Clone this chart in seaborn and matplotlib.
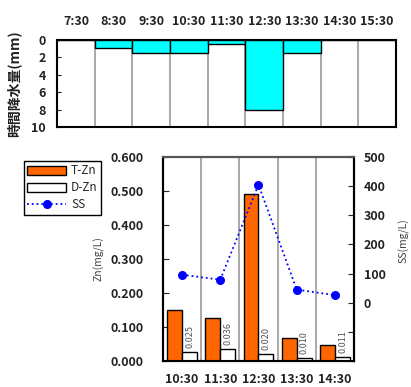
import numpy as np
import pandas as pd
import matplotlib
matplotlib.use('Agg')
import matplotlib.pyplot as plt
from matplotlib.patches import Patch
from matplotlib.lines import Line2D
import seaborn as sns

# dados
horas_chuva = ['7:30', '8:30', '9:30', '10:30', '11:30', '12:30', '13:30', '14:30', '15:30']
chuva = [0, 0.9, 1.5, 1.5, 0.5, 8.0, 1.5, 0, 0]

horas = ['10:30', '11:30', '12:30', '13:30', '14:30']
t_zn = [0.150, 0.127, 0.490, 0.067, 0.047]
d_zn = [0.025, 0.036, 0.020, 0.010, 0.011]
ss = [96, 79, 405, 45, 26]

sns.set_style('white')
plt.rcParams['font.family'] = ['Noto Sans CJK JP', 'DejaVu Sans']

cor_txt = '#222222'
fig = plt.figure(figsize=(4.11, 3.87), dpi=100)

# --- chuva (topo) ---
ax1 = fig.add_axes([0.139, 0.672, 0.8245, 0.2246])
df_chuva = pd.DataFrame({'hora': horas_chuva, 'chuva': chuva})
sns.barplot(data=df_chuva, x='hora', y='chuva', order=horas_chuva, ax=ax1,
            color='#00ffff', width=1.0, edgecolor='black', linewidth=1.0,
            saturation=1, zorder=3)
for k in range(len(horas_chuva) - 1):
    ax1.axvline(k + 0.5, color='#999999', linewidth=1.2, zorder=1)
ax1.set_xlim(-0.5, len(horas_chuva) - 0.5)
ax1.set_ylim(10, 0)
ax1.set_yticks([0, 2, 4, 6, 8, 10])
ax1.xaxis.tick_top()
ax1.tick_params(axis='x', length=0, pad=9, labelsize=9, labelcolor=cor_txt)
ax1.tick_params(axis='y', direction='in', length=3, pad=8, labelsize=9,
                labelcolor=cor_txt, left=True)
for lab in ax1.get_xticklabels() + ax1.get_yticklabels():
    lab.set_fontweight('bold')
ax1.set_xlabel('')
ax1.set_ylabel('時間降水量(mm)', fontsize=10, fontweight='bold', color=cor_txt, labelpad=7)
for s in ax1.spines.values():
    s.set_color('black')
    s.set_linewidth(1.5)

# --- Zn / SS (baixo) ---
ax2 = fig.add_axes([0.3966, 0.0672, 0.4647, 0.5271])
df_zn = pd.DataFrame({
    'hora': horas * 2,
    'tipo': ['T-Zn'] * len(horas) + ['D-Zn'] * len(horas),
    'valor': t_zn + d_zn,
})
sns.barplot(data=df_zn, x='hora', y='valor', hue='tipo', order=horas,
            hue_order=['T-Zn', 'D-Zn'], palette={'T-Zn': '#ff6600', 'D-Zn': 'white'},
            width=0.78, edgecolor='black', linewidth=1.0, saturation=1,
            legend=False, ax=ax2, zorder=3)
for k in range(len(horas) - 1):
    ax2.axvline(k + 0.5, color='#999999', linewidth=1.2, zorder=1)
for i, v in enumerate(d_zn):
    ax2.text(i + 0.2, v + 0.012, f'{v:.3f}', rotation=90, ha='center', va='bottom',
             fontsize=6.5, color='#555555', zorder=5)
ax2.set_xlim(-0.5, len(horas) - 0.5)
ax2.set_ylim(0, 0.6)
ax2.set_yticks(np.arange(0, 0.61, 0.1))
ax2.set_yticklabels([f'{t:.3f}' for t in np.arange(0, 0.61, 0.1)])
ax2.tick_params(axis='x', length=0, pad=9, labelsize=9, labelcolor=cor_txt)
ax2.tick_params(axis='y', direction='in', length=4, pad=14, labelsize=9,
                labelcolor=cor_txt, left=True)
for lab in ax2.get_xticklabels() + ax2.get_yticklabels():
    lab.set_fontweight('bold')
ax2.set_xlabel('')
ax2.set_ylabel('Zn(mg/L)', fontsize=7.5, color='#444444', labelpad=4)

ax3 = ax2.twinx()
df_ss = pd.DataFrame({'hora': horas, 'ss': ss})
sns.pointplot(data=df_ss, x='hora', y='ss', order=horas, ax=ax3, color='#0000ff',
              markers='o', linestyles=':', markersize=5.5, linewidth=1.3,
              errorbar=None)
ax3.set_xlim(-0.5, len(horas) - 0.5)
ax3.set_ylim(-200, 500)
ax3.set_yticks(np.arange(-200, 501, 100))
ax3.set_yticklabels(['' if t < 0 else str(t) for t in range(-200, 501, 100)])
ax3.tick_params(axis='y', direction='in', length=4, pad=7, labelsize=9,
                labelcolor=cor_txt, right=True)
for lab in ax3.get_yticklabels():
    lab.set_fontweight('bold')
ax3.set_ylabel('')
fig.text(0.982, 0.378, 'SS(mg/L)', rotation=90, ha='center', va='center',
         fontsize=7.5, color='#444444')

for ax in (ax2, ax3):
    for s in ax.spines.values():
        s.set_color('black')
        s.set_linewidth(1.5)
ax3.spines['top'].set_color('#555555')

handles = [Patch(facecolor='#ff6600', edgecolor='black', label='T-Zn'),
           Patch(facecolor='white', edgecolor='black', label='D-Zn'),
           Line2D([], [], color='#0000ff', linestyle=':', marker='o', markersize=5.5,
                  linewidth=1.3, label='SS')]
leg = fig.legend(handles=handles, loc='upper left', bbox_to_anchor=(0.058, 0.585),
                 fontsize=8.5, frameon=True, fancybox=False, edgecolor='black',
                 framealpha=1, handlelength=3.3, handleheight=0.8, borderpad=0.3,
                 labelspacing=0.35, handletextpad=0.4, borderaxespad=0)
leg.get_frame().set_linewidth(1.0)

plt.savefig('out.png', dpi=100)
plt.close()
